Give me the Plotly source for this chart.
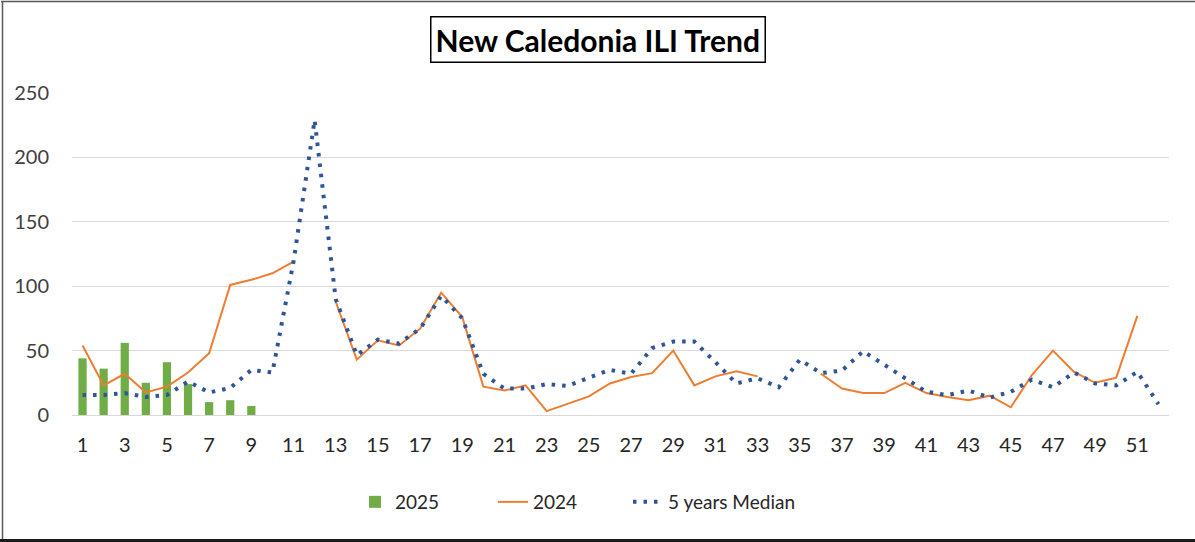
import plotly.graph_objects as go

weeks = list(range(1, 53))
weeks_2025 = list(range(1, 10))
ili_2025 = [44, 36, 56, 25, 41, 24, 10, 11.5, 7]
ili_2024 = [54, 23, 32, 17.5, 22, 33, 48, 101, 105, 110, 119, None,
            88, 43, 58, 54, 67, 95, 76, 22, 19, 23, 3, 8.5, 14.5, 24.5,
            29.5, 32.5, 50, 23, 30, 34, 30, None, None,
            32, 20.5, 17, 17, 25, 17, 14, 11.5, 15, 6, 31, 50, 33.5, 25, 29, 77, None]
median_5y = [15.5, 15.5, 17, 14, 15.5, 26, 17.5, 21, 35, 33,
             119, 229, 90, 46.5, 58.5, 55.5, 67, 92.5, 75, 32,
             20.5, 20.5, 24, 22.5, 29, 35, 32, 52, 57, 57,
             41, 24.5, 28.5, 21.5, 43, 32.5, 34.5, 49.5, 39, 28.5,
             18, 15.5, 19, 13.5, 18, 27.5, 21.5, 33, 24.5, 23,
             33.5, 8.5]
x_ticks = list(range(1, 52, 2))
y_ticks = [0, 50, 100, 150, 200, 250]
title_text = "New Caledonia ILI Trend"

W, H = 1195, 542
ML, MR, MT, MB = 72, 26, 93, 127
PW, PH = W - ML - MR, H - MT - MB

def px_x(p):
    return (p - ML) / PW

def px_y(p):
    return (H - MB - p) / PH

fig = go.Figure()
fig.add_trace(go.Bar(x=weeks_2025, y=ili_2025, name="2025", width=0.39, legend="legend",
                     marker=dict(color="#70AD47", line=dict(width=0))))
fig.add_trace(go.Scatter(x=weeks, y=ili_2024, name="2024", mode="lines", legend="legend2",
                         line=dict(color="#ED7D31", width=2), connectgaps=False))
fig.add_trace(go.Scatter(x=weeks, y=median_5y, name="5 years Median", mode="lines", legend="legend3",
                         line=dict(color="#2F5597", width=4, dash="3.5px,7px")))

font_main = "Lato, 'Liberation Sans', Arial, sans-serif"

def leg(xpx):
    return dict(orientation="h", x=px_x(xpx), xanchor="left", y=px_y(502), yanchor="middle",
                font=dict(size=19, color="#262626"), bgcolor="rgba(0,0,0,0)")

fig.update_layout(
    width=W, height=H,
    margin=dict(l=ML, r=MR, t=MT, b=MB, pad=0),
    paper_bgcolor="white", plot_bgcolor="white",
    font=dict(family=font_main, size=20, color="#404040"),
    showlegend=True,
    legend=leg(355), legend2=leg(493), legend3=leg(628),
    xaxis=dict(range=[0.5, 52.5], tickmode="array", tickvals=x_ticks,
               ticktext=[str(v) for v in x_ticks], showgrid=False, zeroline=False,
               showline=True, linecolor="#D9D9D9", linewidth=1, ticks="",
               ticklabelstandoff=12, tickfont=dict(size=20, color="#262626")),
    yaxis=dict(range=[0, 250], tickmode="array", tickvals=y_ticks, showgrid=True,
               gridcolor="#D9D9D9", gridwidth=1.2, zeroline=False, showline=False, ticks="",
               ticklabelstandoff=22, tickfont=dict(size=20, color="#404040")),
    annotations=[dict(text="<b>" + title_text + "</b>", xref="paper", yref="paper",
                      x=px_x(598), y=px_y(39.5), xanchor="center", yanchor="middle",
                      showarrow=False, font=dict(size=30, color="#000000", family=font_main),
                      bordercolor="#000000", borderwidth=1.5, borderpad=4, bgcolor="white")],
    shapes=[
        dict(type="line", xref="paper", yref="paper", x0=px_x(1), x1=px_x(W), y0=px_y(1.5), y1=px_y(1.5),
             line=dict(color="#595959", width=1.5)),
        dict(type="line", xref="paper", yref="paper", x0=px_x(2.5), x1=px_x(2.5), y0=px_y(1), y1=px_y(540),
             line=dict(color="#595959", width=1.5)),
        dict(type="line", xref="paper", yref="paper", x0=px_x(0), x1=px_x(W), y0=px_y(540.5), y1=px_y(540.5),
             line=dict(color="#1a1a1a", width=3)),
    ],
)

fig.write_html("out.html", config={"displayModeBar": False},
               post_script="document.body.style.margin='0';document.body.style.overflow='hidden';")
